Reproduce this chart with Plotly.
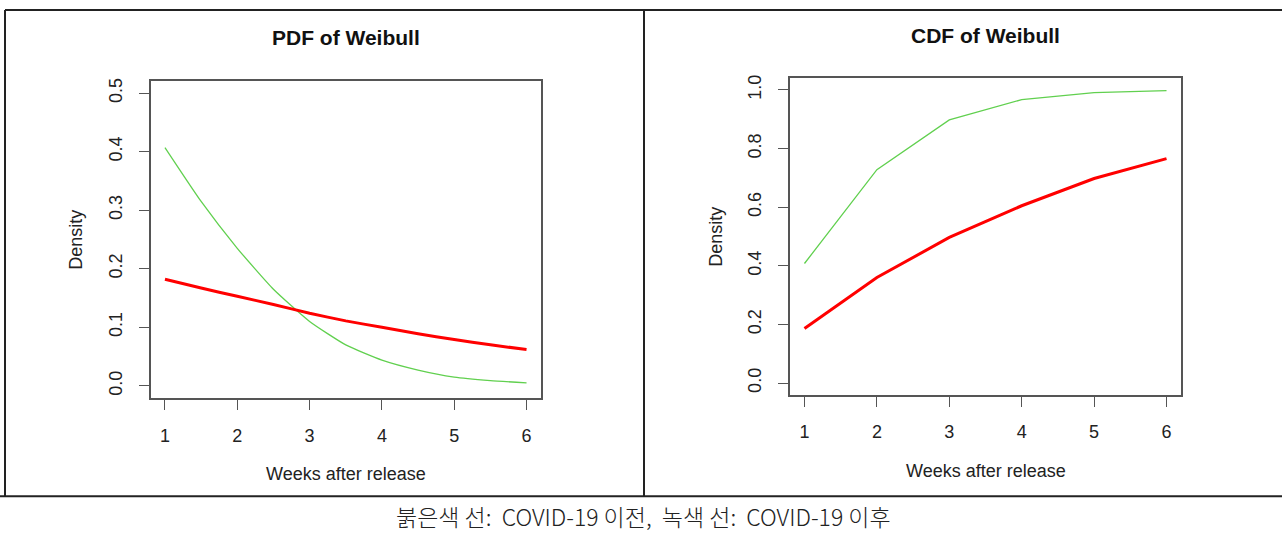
import plotly.graph_objects as go

# ---- data ----
pdf_weeks = [1, 1.5, 2, 2.5, 3, 3.5, 4, 4.5, 5, 5.5, 6]
pdf_before = [0.182, 0.167, 0.153, 0.139, 0.124, 0.111, 0.100, 0.089, 0.079, 0.070, 0.062]
pdf_after = [0.407, 0.315, 0.235, 0.165, 0.110, 0.070, 0.044, 0.027, 0.015, 0.009, 0.005]

cdf_weeks = [1, 2, 3, 4, 5, 6]
cdf_before = [0.186, 0.360, 0.497, 0.605, 0.698, 0.766]
cdf_after = [0.408, 0.728, 0.898, 0.967, 0.991, 0.998]

x_ticks = [1, 2, 3, 4, 5, 6]
pdf_yticks = [0.0, 0.1, 0.2, 0.3, 0.4, 0.5]
cdf_yticks = [0.0, 0.2, 0.4, 0.6, 0.8, 1.0]

titles = ["PDF of Weibull", "CDF of Weibull"]
x_title = "Weeks after release"
y_title = "Density"
caption = "붉은색 선:  COVID-19 이전,  녹색 선:  COVID-19 이후"

RED = "#FF0000"
GREEN = "#61D04F"
W, H = 1282, 533
FONT = "Liberation Sans, Arial, sans-serif"


def px(x):
    return x / W


def py(y):
    return 1 - y / H


fig = go.Figure()
fig.add_trace(go.Scatter(x=pdf_weeks, y=pdf_after, mode="lines", line=dict(color=GREEN, width=1.3, shape="spline", smoothing=0.5),
                         xaxis="x", yaxis="y", showlegend=False))
fig.add_trace(go.Scatter(x=pdf_weeks, y=pdf_before, mode="lines", line=dict(color=RED, width=3, shape="spline", smoothing=0.5),
                         xaxis="x", yaxis="y", showlegend=False))
fig.add_trace(go.Scatter(x=cdf_weeks, y=cdf_after, mode="lines", line=dict(color=GREEN, width=1.3),
                         xaxis="x2", yaxis="y2", showlegend=False))
fig.add_trace(go.Scatter(x=cdf_weeks, y=cdf_before, mode="lines", line=dict(color=RED, width=3),
                         xaxis="x2", yaxis="y2", showlegend=False))

axis_common = dict(showgrid=False, zeroline=False, showline=True, mirror=True, linecolor="#555555", linewidth=1.5,
                   ticks="outside", ticklen=10, tickwidth=1.3, tickcolor="#555555",
                   tickfont=dict(family=FONT, size=18, color="#222222"), ticklabelstandoff=10)

fig.update_layout(
    width=W, height=H, margin=dict(l=0, r=0, t=0, b=0),
    paper_bgcolor="white", plot_bgcolor="white",
    xaxis=dict(domain=[px(150.5), px(541)], range=[0.8, 6.2], tickvals=x_ticks, anchor="y", **axis_common),
    yaxis=dict(domain=[py(397.7), py(78)], range=[-0.0216, 0.5216], tickvals=pdf_yticks,
               ticktext=[f"{v:.1f}" for v in pdf_yticks], tickangle=-90, anchor="x", **axis_common),
    xaxis2=dict(domain=[px(790), px(1181)], range=[0.8, 6.2], tickvals=x_ticks, anchor="y2", **axis_common),
    yaxis2=dict(domain=[py(394), py(75.7)], range=[-0.04, 1.04], tickvals=cdf_yticks,
                ticktext=[f"{v:.1f}" for v in cdf_yticks], tickangle=-90, anchor="x2", **axis_common),
)

# panel titles and axis titles
ann = []
base = dict(showarrow=False, xref="paper", yref="paper", xanchor="center", yanchor="middle")
for cx, ty, t in [(345.5, 35, titles[0]), (985.5, 33, titles[1])]:
    ann.append(dict(x=px(cx), y=py(ty), text=f"<b>{t}</b>",
                    font=dict(family=FONT, size=21, color="#111111"), **base))
for cx, ty in [(345.5, 474), (985.5, 471)]:
    ann.append(dict(x=px(cx), y=py(ty), text=x_title,
                    font=dict(family=FONT, size=18, color="#222222"), **base))
for cx, cy in [(76, 238), (716, 235)]:
    ann.append(dict(x=px(cx), y=py(cy), text=y_title, textangle=-90,
                    font=dict(family=FONT, size=18, color="#222222"), **base))
ann.append(dict(x=px(643), y=py(516), text=caption,
                font=dict(family="Noto Sans CJK KR, sans-serif", size=23, weight=300, color="#222222"), **base))
fig.update_layout(annotations=ann)

# table borders
border = dict(color="#222222", width=2)
shapes = [
    dict(type="line", xref="paper", yref="paper", x0=px(5), x1=1.0, y0=py(7), y1=py(7), line=border),
    dict(type="line", xref="paper", yref="paper", x0=px(5), x1=px(5), y0=py(7), y1=py(496), line=border),
    dict(type="line", xref="paper", yref="paper", x0=px(644), x1=px(644), y0=py(7), y1=py(496), line=border),
    dict(type="line", xref="paper", yref="paper", x0=0.0, x1=1.0, y0=py(496), y1=py(496), line=border),
]
fig.update_layout(shapes=shapes)

fig.write_html("out.html", config={"displayModeBar": False},
               post_script="document.body.style.margin='0';document.body.style.overflow='hidden';")
